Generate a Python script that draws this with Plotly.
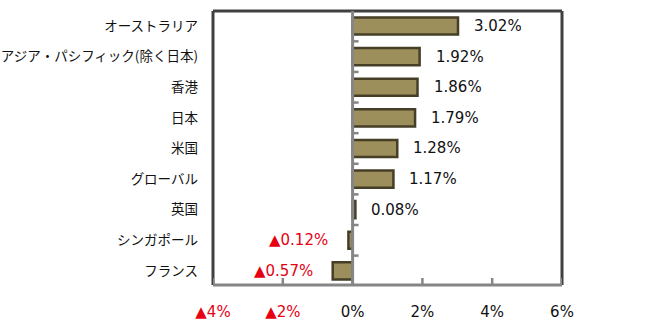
import plotly.graph_objects as go

categories = ["オーストラリア", "アジア・パシフィック(除く日本)", "香港", "日本", "米国",
              "グローバル", "英国", "シンガポール", "フランス"]
values = [3.02, 1.92, 1.86, 1.79, 1.28, 1.17, 0.08, -0.12, -0.57]
tick_vals = [-4, -2, 0, 2, 4, 6]
tick_labels = ["▲4%", "▲2%", "0%", "2%", "4%", "6%"]

RED = "#E60012"
DARK = "#404040"
GRAY = "#868686"
TEXT = "#111111"
NUM_FONT = "DejaVu Sans"
JP_FONT = "Noto Sans CJK JP"


def fmt(v):
    return ("▲" if v < 0 else "") + f"{abs(v):.2f}%"


fig = go.Figure()
fig.add_trace(go.Bar(
    x=values, y=categories, orientation="h", width=0.56,
    marker=dict(color="#9C8F5B", line=dict(color="#463F27", width=2.5)),
    hoverinfo="skip", showlegend=False,
))

annotations = []
for c, v in zip(categories, values):
    neg = v < 0
    annotations.append(dict(
        x=v, y=c, xref="x", yref="y", text=fmt(v), showarrow=False,
        xanchor="right" if neg else "left", xshift=-18 if neg else 14,
        font=dict(family=NUM_FONT, size=15, color=RED if neg else TEXT),
    ))

ticktext = [f'<span style="color:{RED}">{t}</span>' if tv < 0 else t
            for t, tv in zip(tick_labels, tick_vals)]

shapes = []
# frame (left, top, right) dark
shapes.append(dict(type="line", xref="paper", yref="paper", x0=0, x1=0, y0=0, y1=1,
                   line=dict(color=DARK, width=3)))
shapes.append(dict(type="line", xref="paper", yref="paper", x0=0, x1=1, y0=1, y1=1,
                   line=dict(color=DARK, width=3)))
shapes.append(dict(type="line", xref="paper", yref="paper", x0=1, x1=1, y0=0, y1=1,
                   line=dict(color=DARK, width=3)))
# category-boundary ticks on the zero line
for i in range(1, len(categories)):
    shapes.append(dict(type="line", xref="x", yref="y", xsizemode="pixel", xanchor=0,
                       x0=0, x1=6, y0=i - 0.5, y1=i - 0.5,
                       line=dict(color=GRAY, width=2.5)))
# zero line
shapes.append(dict(type="line", xref="x", yref="paper", x0=0, x1=0, y0=0, y1=1,
                   line=dict(color=GRAY, width=3)))
# x tick marks (inside, upward)
for tv in tick_vals:
    shapes.append(dict(type="line", xref="x", yref="paper", ysizemode="pixel", yanchor=0,
                       x0=tv, x1=tv, y0=0, y1=7, line=dict(color=GRAY, width=2.5)))
# bottom axis gray
shapes.append(dict(type="line", xref="paper", yref="paper", x0=0, x1=1, y0=0, y1=0,
                   line=dict(color=GRAY, width=3)))

fig.update_layout(
    width=664, height=326,
    margin=dict(l=213, r=102, t=11, b=41),
    paper_bgcolor="white", plot_bgcolor="white",
    xaxis=dict(range=[-4, 6], tickvals=tick_vals, ticktext=ticktext,
               showgrid=False, zeroline=False, showline=False, ticks="",
               ticklabelstandoff=16, automargin=False,
               tickfont=dict(family=NUM_FONT, size=15, color=TEXT),
               fixedrange=True),
    yaxis=dict(type="category", categoryorder="array", categoryarray=categories,
               range=[len(categories) - 0.54, -0.49],
               showgrid=False, zeroline=False, showline=False, ticks="",
               ticklabelstandoff=14, automargin=False,
               tickfont=dict(family=JP_FONT, size=13.5, color=TEXT),
               fixedrange=True),
    annotations=annotations,
    shapes=shapes,
)

fig.write_html("out.html")
